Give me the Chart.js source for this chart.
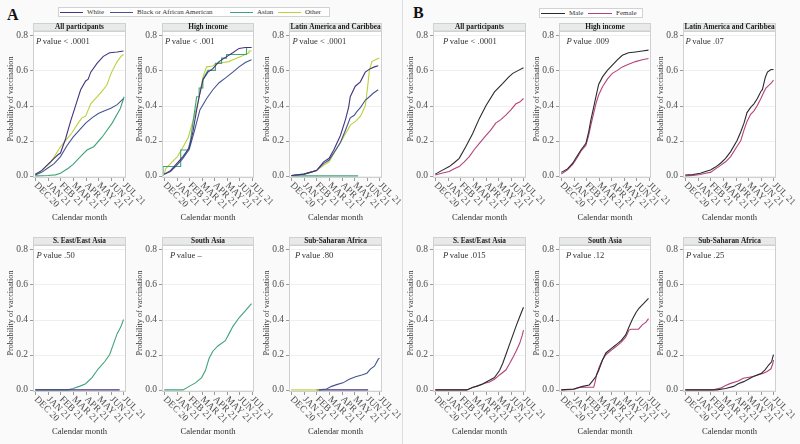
<!DOCTYPE html>
<html><head><meta charset="utf-8">
<script src="https://cdn.jsdelivr.net/npm/chart.js@4.4.1/dist/chart.umd.min.js"></script>
<style>
html,body{margin:0;padding:0;}
body{width:800px;height:444px;background:#fafafa;position:relative;overflow:hidden;font-family:"Liberation Serif","DejaVu Serif",serif;color:#333;}
canvas{position:absolute;}
.big{position:absolute;font-weight:bold;font-size:16px;line-height:16px;color:#111;}
.lgbox{position:absolute;border:1px solid #d2d2d2;background:#fff;box-sizing:border-box;}
.lgline{position:absolute;height:0;border-top:1.5px solid #000;}
.lgtxt{position:absolute;font-size:7px;line-height:10px;color:#333;white-space:nowrap;}
.divider{position:absolute;left:402px;top:0;width:1px;height:444px;background:#dedede;}
</style></head>
<body>
<div class="divider"></div>
<div class="big" style="left:7px;top:6.6px">A</div>
<div class="big" style="left:413px;top:4.6px">B</div>
<script>
// ---------- labels ----------
const monthLabels = ['DEC 20','JAN 21','FEB 21','MAR 21','APR 21','MAY 21','JUN 21','JUL 21'];
const yTickValues = [0, 0.2, 0.4, 0.6, 0.8];
const yTickLabels = ['0.0','0.2','0.4','0.6','0.8'];
const legendALabels = ['White','Black or African American','Asian','Other'];
const legendBLabels = ['Male','Female'];
const panelTitles = ['All participants','High income','Latin America and Caribbea','S. East/East Asia','South Asia','Sub-Saharan Africa'];
const pValuesA = ['< .0001','< .001','< .0001','.50','\u2013','.80'];
const pValuesB = ['< .0001','.009','.07','.015','.12','.25'];

// ---------- data: [month index (0 = Dec 20), probability] ----------
// A: race/ethnicity
const a1White = [[0,0.01],[0.5,0.03],[1,0.065],[1.5,0.1],[1.8,0.12],[2.0,0.13],[2.4,0.21],[2.8,0.31],[3.2,0.40],[3.6,0.49],[4.0,0.54],[4.2,0.55],[4.4,0.59],[4.9,0.64],[5.4,0.68],[5.9,0.70],[6.5,0.705],[7,0.71]];
const a1Black = [[0,0.005],[0.5,0.02],[1,0.045],[1.5,0.07],[2,0.11],[2.5,0.17],[3,0.22],[3.5,0.26],[4,0.3],[4.5,0.33],[5,0.355],[5.5,0.37],[6,0.385],[6.5,0.405],[7,0.44]];
const a1Asian = [[0,0],[1,0.002],[1.6,0.006],[2,0.015],[2.65,0.045],[3,0.065],[3.45,0.1],[4.1,0.147],[4.64,0.166],[5.3,0.22],[6.1,0.3],[6.76,0.385],[7.05,0.45]];
const a1Other = [[0,0.005],[0.5,0.03],[1.2,0.074],[2,0.166],[2.4,0.2],[2.9,0.244],[3.4,0.3],[3.7,0.33],[4,0.34],[4.4,0.41],[4.9,0.45],[5.4,0.49],[5.7,0.52],[6.0,0.58],[6.2,0.61],[6.5,0.65],[6.8,0.68],[7.0,0.69]];

const a2White = [[0,0.01],[0.5,0.03],[1.0,0.07],[1.5,0.11],[2.0,0.16],[2.3,0.25],[2.6,0.375],[2.8,0.45],[3.1,0.545],[3.5,0.59],[3.9,0.61],[4.4,0.65],[4.97,0.677],[5.5,0.70],[6.0,0.725],[6.5,0.73],[7,0.73]];
const a2Black = [[0,0.01],[0.5,0.025],[1.0,0.06],[1.5,0.1],[2.0,0.15],[2.4,0.25],[2.86,0.375],[3.4,0.44],[3.9,0.49],[4.4,0.53],[4.97,0.56],[5.5,0.59],[6,0.62],[6.5,0.645],[7,0.66]];
const a2Asian = [[-0.1,0],[-0.1,0.053],[1.32,0.053],[1.32,0.147],[1.9,0.147],[2.1,0.2],[2.3,0.3],[2.5,0.4],[2.6,0.45],[2.8,0.45],[2.8,0.5],[3.1,0.5],[3.1,0.55],[3.5,0.6],[4.1,0.6],[4.1,0.64],[4.6,0.64],[4.6,0.67],[5.0,0.67],[5.0,0.69],[6.6,0.69],[6.6,0.73],[7,0.73]];
const a2Other = [[0,0.005],[0.1,0.04],[0.5,0.07],[1.06,0.11],[1.53,0.167],[1.93,0.22],[2.33,0.32],[2.6,0.39],[2.8,0.45],[3.1,0.56],[3.39,0.62],[3.9,0.625],[4.2,0.64],[4.7,0.645],[5.2,0.65],[5.5,0.66],[6.0,0.675],[6.5,0.69],[6.8,0.70],[6.8,0.71],[7,0.71]];

const a3White = [[0,0.002],[1,0.01],[1.5,0.02],[2,0.03],[2.57,0.08],[3,0.1],[3.37,0.147],[3.9,0.23],[4.3,0.32],[4.55,0.39],[4.68,0.45],[5.08,0.51],[5.48,0.535],[5.87,0.59],[6.27,0.61],[6.6,0.62],[6.9,0.626]];
const a3Black = [[0,0.002],[1,0.01],[1.5,0.02],[2,0.03],[2.57,0.07],[3,0.09],[3.37,0.13],[3.9,0.19],[4.3,0.26],[4.68,0.33],[5.0,0.345],[5.2,0.365],[5.5,0.39],[5.87,0.43],[6.2,0.45],[6.5,0.47],[6.9,0.49]];
const a3Asian = [[0,0],[5.3,0]];
const a3Other = [[0,0.002],[1,0.008],[1.5,0.02],[2,0.03],[2.57,0.06],[3,0.08],[3.4,0.13],[3.9,0.19],[4.3,0.24],[4.7,0.29],[5.1,0.31],[5.5,0.34],[5.88,0.40],[6.05,0.5],[6.2,0.6],[6.4,0.65],[6.8,0.665],[7.0,0.67]];

const a4White = [[0,0],[6.7,0]];
const a4Asian = [[0,0],[2.6,0],[3,0.008],[3.5,0.02],[4,0.035],[4.5,0.07],[5,0.12],[5.5,0.16],[5.9,0.2],[6.2,0.26],[6.5,0.32],[6.8,0.36],[7,0.40]];

const a5Asian = [[0,0],[1.5,0],[2,0.02],[2.5,0.04],[3,0.07],[3.3,0.11],[3.6,0.18],[3.9,0.22],[4.3,0.25],[4.9,0.28],[5.2,0.32],[5.5,0.36],[6,0.41],[6.5,0.45],[7,0.49]];

const a6Other = [[0,0],[2.2,0]];
const a6Black = [[2.2,0],[2.8,0.005],[3.2,0.02],[3.6,0.03],[4.1,0.04],[4.6,0.06],[5.1,0.075],[5.6,0.085],[6.0,0.095],[6.3,0.12],[6.6,0.135],[6.9,0.175],[7.0,0.18]];
const a6White = [[2.0,0],[6.1,0]];

// B: sex
const b1Male = [[0,0.01],[0.5,0.03],[1.11,0.053],[1.5,0.075],[1.9,0.1],[2.43,0.167],[2.96,0.24],[3.5,0.327],[4.03,0.40],[4.7,0.478],[5.36,0.526],[5.8,0.56],[6.15,0.583],[6.6,0.6],[7,0.615]];
const b1Female = [[0,0.005],[0.5,0.015],[1.11,0.025],[1.5,0.04],[1.9,0.053],[2.3,0.08],[2.7,0.11],[3.1,0.15],[3.5,0.185],[4.03,0.23],[4.4,0.26],[4.8,0.3],[5.2,0.32],[5.6,0.346],[6.0,0.375],[6.4,0.41],[6.7,0.42],[7,0.44]];
const b2Male = [[0,0.02],[0.5,0.04],[0.92,0.072],[1.25,0.11],[1.58,0.147],[1.98,0.185],[2.2,0.25],[2.38,0.318],[2.78,0.45],[3.0,0.52],[3.31,0.563],[3.7,0.6],[4.1,0.63],[4.5,0.66],[4.9,0.686],[5.4,0.7],[5.96,0.705],[6.5,0.71],[7,0.715]];
const b2Female = [[0,0.01],[0.5,0.035],[0.92,0.065],[1.25,0.1],[1.58,0.14],[1.98,0.175],[2.2,0.23],[2.38,0.29],[2.78,0.41],[3.0,0.46],[3.31,0.507],[3.7,0.55],[4.1,0.583],[4.5,0.6],[4.9,0.62],[5.4,0.635],[5.96,0.65],[6.5,0.66],[7,0.668]];
const b3Male = [[0,0.005],[0.6,0.008],[1.2,0.015],[1.6,0.025],[2.0,0.034],[2.4,0.05],[2.8,0.072],[3.2,0.1],[3.6,0.138],[4.1,0.2],[4.4,0.25],[4.66,0.3],[4.9,0.36],[5.19,0.39],[5.45,0.41],[5.72,0.44],[6.0,0.48],[6.12,0.49],[6.35,0.56],[6.52,0.59],[6.8,0.605],[7,0.605]];
const b3Female = [[0,0],[0.6,0.003],[1.2,0.008],[1.6,0.015],[2.0,0.02],[2.4,0.04],[2.8,0.06],[3.2,0.08],[3.6,0.11],[4.1,0.167],[4.4,0.2],[4.66,0.26],[4.9,0.31],[5.19,0.35],[5.45,0.37],[5.72,0.4],[6.0,0.44],[6.25,0.478],[6.4,0.5],[6.65,0.516],[6.85,0.53],[7,0.545]];
const b4Male = [[0,0],[2.5,0],[3.0,0.015],[3.25,0.02],[3.8,0.035],[4.3,0.055],[4.7,0.07],[5.1,0.11],[5.35,0.15],[5.6,0.2],[5.9,0.26],[6.2,0.32],[6.45,0.37],[6.7,0.416],[7,0.47]];
const b4Female = [[0,0],[2.5,0],[3.0,0.015],[3.5,0.025],[4.0,0.04],[4.3,0.045],[4.7,0.06],[5.1,0.085],[5.6,0.113],[5.9,0.15],[6.2,0.19],[6.45,0.225],[6.7,0.265],[6.9,0.31],[7,0.34]];
const b5Male = [[0,0],[1.0,0.005],[1.72,0.02],[2.25,0.028],[2.5,0.05],[2.78,0.076],[3.0,0.11],[3.31,0.17],[3.58,0.21],[4.0,0.235],[4.37,0.255],[4.8,0.28],[5.17,0.313],[5.45,0.36],[5.7,0.40],[6.0,0.44],[6.23,0.464],[6.6,0.49],[7,0.52]];
const b5Female = [[0,0],[1.0,0.003],[1.5,0.015],[2.6,0.015],[2.7,0.04],[2.85,0.09],[3.05,0.13],[3.3,0.17],[3.58,0.2],[4.0,0.225],[4.37,0.245],[4.8,0.27],[5.17,0.3],[5.44,0.34],[5.6,0.345],[6.2,0.345],[6.5,0.37],[6.8,0.385],[7,0.405]];
const b6Male = [[0,0],[2.5,0],[3.2,0.008],[3.84,0.02],[4.2,0.035],[4.64,0.047],[5.0,0.06],[5.4,0.076],[6.05,0.095],[6.35,0.115],[6.6,0.14],[6.85,0.16],[7,0.2]];
const b6Female = [[0,0],[2.2,0],[2.8,0.01],[3.2,0.025],[3.6,0.037],[4.2,0.05],[4.6,0.066],[5.4,0.076],[6.2,0.095],[6.5,0.105],[6.8,0.12],[6.95,0.15],[7,0.17]];

// ---------- styles ----------
const COL = {white:'#46337e', black:'#43558f', asian:'#41a37a', other:'#bdd03c', male:'#2b2b2b', female:'#b5427b'};
const legendAColors = [COL.white, COL.black, COL.asian, COL.other];
const legendBColors = [COL.male, COL.female];

// legends (HTML)
function legend(box, items){
  const b=document.createElement('div'); b.className='lgbox';
  Object.assign(b.style,{left:box[0]+'px',top:box[1]+'px',width:box[2]+'px',height:box[3]+'px'});
  document.body.appendChild(b);
  items.forEach(it=>{
    const l=document.createElement('div'); l.className='lgline';
    Object.assign(l.style,{left:it.x+'px',top:(box[1]+4.5)+'px',width:it.w+'px',borderTopColor:it.c});
    document.body.appendChild(l);
    const t=document.createElement('div'); t.className='lgtxt'; t.textContent=it.t;
    Object.assign(t.style,{left:(it.x+it.w+4)+'px',top:(box[1]+0)+'px'});
    document.body.appendChild(t);
  });
}
const legAX=[60,110,230,278], legBX=[541,588];
legend([58,7,272,10], legendALabels.map((t,i)=>({t,c:legendAColors[i],x:legAX[i],w:23})));
legend([539,8,104,10], legendBLabels.map((t,i)=>({t,c:legendBColors[i],x:legBX[i],w:24})));

// ---------- decoration plugin ----------
const SERIF = '"Liberation Serif","DejaVu Serif",serif';
const decor = {
  id:'decor',
  beforeDatasetsDraw(chart){
    const {ctx, chartArea:a, scales:{y}} = chart;
    ctx.save();
    ctx.fillStyle='#ffffff'; ctx.fillRect(a.left,a.top,a.width,a.height);
    ctx.strokeStyle='#efefef'; ctx.lineWidth=1;
    yTickValues.forEach(v=>{const py=Math.round(y.getPixelForValue(v))+0.5; ctx.beginPath(); ctx.moveTo(a.left,py); ctx.lineTo(a.right,py); ctx.stroke();});
    ctx.restore();
  },
  afterDraw(chart, args, o){
    const {ctx, chartArea:a, scales:{x,y}} = chart;
    ctx.save();
    // box
    ctx.strokeStyle='#d0d0d0'; ctx.lineWidth=1;
    ctx.strokeRect(a.left+0.5,a.top+0.5,a.width-1,a.height-1);
    // header strip
    ctx.fillStyle='#e8e9e9';
    ctx.fillRect(a.left+0.5,a.top-8,a.width-1,8);
    ctx.strokeRect(a.left+0.5,a.top-7.5,a.width-1,7.5);
    ctx.fillStyle='#1a1a1a'; ctx.font='bold 7.3px '+SERIF; ctx.textAlign='center'; ctx.textBaseline='middle';
    ctx.fillText(o.title,(a.left+a.right)/2,a.top-3.6);
    // y ticks
    ctx.strokeStyle='#999'; ctx.fillStyle='#4d4d4d'; ctx.font='9.5px '+SERIF; ctx.textAlign='right';
    yTickValues.forEach((v,i)=>{
      const py=y.getPixelForValue(v);
      ctx.beginPath(); ctx.moveTo(a.left-3,Math.round(py)+0.5); ctx.lineTo(a.left,Math.round(py)+0.5); ctx.stroke();
      ctx.fillText(yTickLabels[i],a.left-5,py);
    });
    // x ticks
    ctx.textAlign='left';
    monthLabels.forEach((lab,i)=>{
      const px=x.getPixelForValue(i);
      ctx.beginPath(); ctx.moveTo(Math.round(px)+0.5,a.bottom); ctx.lineTo(Math.round(px)+0.5,a.bottom+3); ctx.stroke();
      ctx.save(); ctx.translate(px+0.5,a.bottom+6); ctx.rotate(Math.PI/4);
      ctx.fillText(lab,0,0); ctx.restore();
    });
    // axis titles
    ctx.fillStyle='#333'; ctx.font='8.6px '+SERIF; ctx.textAlign='center';
    ctx.fillText('Calendar month',(a.left+a.right)/2,a.bottom+39.5);
    ctx.save(); ctx.translate(a.left-22.5,a.top+68); ctx.rotate(-Math.PI/2);
    ctx.font='8.2px '+SERIF; ctx.fillText('Probability of vaccination',0,0); ctx.restore();
    // P value
    ctx.textAlign='left'; ctx.fillStyle='#333';
    let px=a.left+o.po, py=a.top+10.5;
    ctx.font='italic 8.6px '+SERIF; ctx.fillText('P',px,py);
    px+=ctx.measureText('P').width+1.5;
    ctx.font='8.6px '+SERIF; ctx.fillText('value '+o.p,px,py);
    ctx.restore();
  }
};

// ---------- panels ----------
const colsA=[[33,126],[162,254],[289,382]], colsB=[[433,526],[559,651],[683,776]];
const rows=[[31,178],[245,392]];
const poA=[3,3,3.5,3.5,8,6], poB=[10,7.5,2.5,10,7,3];
const seriesA=[
  [[a1White,COL.white],[a1Black,COL.black],[a1Asian,COL.asian],[a1Other,COL.other]],
  [[a2White,COL.white],[a2Black,COL.black],[a2Asian,COL.asian],[a2Other,COL.other]],
  [[a3White,COL.white],[a3Black,COL.black],[a3Asian,COL.asian],[a3Other,COL.other]],
  [[a4White,COL.white],[a4Asian,COL.asian]],
  [[a5Asian,COL.asian]],
  [[a6Other,COL.other],[a6Black,COL.black],[a6White,COL.white]]
];
const seriesB=[
  [[b1Male,COL.male],[b1Female,COL.female]],
  [[b2Male,COL.male],[b2Female,COL.female]],
  [[b3Male,COL.male],[b3Female,COL.female]],
  [[b4Male,COL.male],[b4Female,COL.female]],
  [[b5Male,COL.male],[b5Female,COL.female]],
  [[b6Male,COL.male],[b6Female,COL.female]]
];
const PL=34,PT=12,PR=30,PB=50;
function makePanel(col,row,title,p,po,series){
  const c=document.createElement('canvas');
  const w=(col[1]-col[0])+PL+PR, h=(row[1]-row[0])+PT+PB;
  c.width=w; c.height=h; c.style.width=w+'px'; c.style.height=h+'px';
  c.style.left=(col[0]-PL)+'px'; c.style.top=(row[0]-PT)+'px';
  document.body.appendChild(c);
  new Chart(c,{
    type:'line',
    data:{datasets:series.map(([d,color])=>({data:d.map(([mx,v])=>({x:mx,y:v})),borderColor:color,borderWidth:1.1,pointRadius:0,fill:false,tension:0}))},
    options:{responsive:false,animation:false,devicePixelRatio:1,
      layout:{padding:{left:PL,top:PT,right:PR,bottom:PB}},
      plugins:{legend:{display:false},tooltip:{enabled:false},decor:{title,p,po}},
      scales:{x:{type:'linear',min:-0.18,max:7.2,display:false},y:{type:'linear',min:-0.012,max:0.824,display:false}}},
    plugins:[decor]
  });
}
for(let i=0;i<6;i++){
  const r=rows[Math.floor(i/3)];
  makePanel(colsA[i%3],r,panelTitles[i],pValuesA[i],poA[i],seriesA[i]);
  makePanel(colsB[i%3],r,panelTitles[i],pValuesB[i],poB[i],seriesB[i]);
}
</script>
</body></html>
